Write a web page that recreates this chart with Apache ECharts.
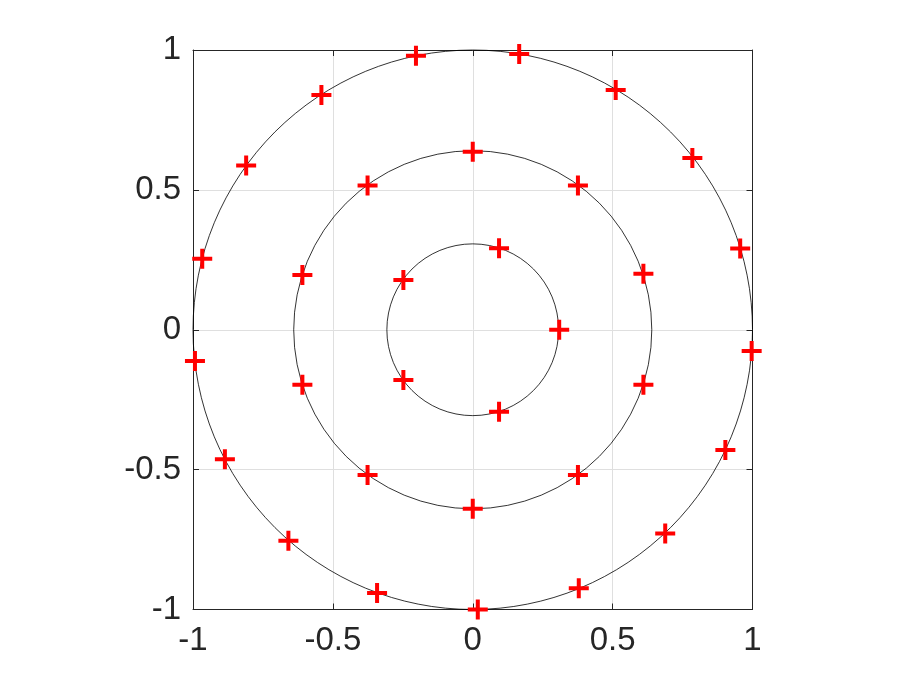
<!DOCTYPE html>
<html>
<head>
<meta charset="utf-8">
<script src="https://cdn.jsdelivr.net/npm/echarts@6/dist/echarts.min.js"></script>
<style>
html,body{margin:0;padding:0;background:#fff;}
#chart{width:913px;height:685px;}
</style>
</head>
<body>
<div id="chart"></div>
<script>
// Tick labels
const tickValues = [-1, -0.5, 0, 0.5, 1];
const tickLabels = ['-1', '-0.5', '0', '0.5', '1'];

// Circle radii
const circleRadii = [0.307, 0.64, 1.0];

// Inner ring points
const innerX = [0.309, 0.094, -0.248, -0.248, 0.094];
const innerY = [0.0, 0.291, 0.178, -0.18, -0.293];

// Middle ring points
const middleX = [0.0, 0.376, 0.61, 0.61, 0.376, 0.0, -0.376, -0.609, -0.609, -0.376];
const middleY = [0.636, 0.516, 0.2, -0.197, -0.519, -0.64, -0.519, -0.197, 0.196, 0.516];

// Outer ring points
const outerX = [0.166, 0.511, 0.785, 0.956, 0.997, 0.903, 0.688, 0.379, 0.018, -0.342, -0.659, -0.886, -0.993, -0.967, -0.81, -0.541, -0.203];
const outerY = [0.986, 0.857, 0.614, 0.29, -0.076, -0.43, -0.728, -0.924, -1.0, -0.941, -0.754, -0.463, -0.112, 0.254, 0.587, 0.839, 0.979];

const zip = (xs, ys) => xs.map((x, i) => [x, ys[i]]);
const labelFor = v => {
  const i = tickValues.findIndex(t => Math.abs(t - v) < 1e-9);
  return i >= 0 ? tickLabels[i] : '';
};

const axisColor = '#262626';
const fontFamily = '"Liberation Sans", Arial, Helvetica, sans-serif';
const plusPath = 'path://M8,0H12V8H20V12H12V20H8V12H0V8H8Z';

function makeAxis(position, main) {
  return {
    type: 'value', min: -1, max: 1, interval: 0.5, position: position,
    axisLine: { show: true, onZero: false, lineStyle: { color: axisColor, width: 1 } },
    axisTick: { show: true, inside: true, length: 6, lineStyle: { color: axisColor, width: 1 } },
    axisLabel: main ? {
      show: true, fontSize: 33, color: axisColor, fontFamily: fontFamily,
      margin: position === 'bottom' ? 15 : 12,
      formatter: labelFor
    } : { show: false },
    splitLine: { show: main, lineStyle: { color: '#dfdfdf', width: 1 } }
  };
}

function scatterSeries(data) {
  return {
    type: 'scatter', data: data, symbol: plusPath, symbolSize: 20,
    itemStyle: { color: '#ff0000', opacity: 1 }, clip: false, z: 10, silent: true,
    xAxisIndex: 0, yAxisIndex: 0
  };
}

const chart = echarts.init(document.getElementById('chart'));
chart.setOption({
  animation: false,
  backgroundColor: '#ffffff',
  grid: { left: 193, top: 50, width: 559.5, height: 559.5, containLabel: false },
  xAxis: [makeAxis('bottom', true), makeAxis('top', false)],
  yAxis: [makeAxis('left', true), makeAxis('right', false)],
  series: [
    {
      type: 'custom', xAxisIndex: 0, yAxisIndex: 0, z: 5, silent: true, clip: false,
      data: circleRadii.map(r => [0, 0, r]),
      encode: { x: 0, y: 1 },
      renderItem: function (params, api) {
        const c = api.coord([api.value(0), api.value(1)]);
        const s = api.size([api.value(2), api.value(2)]);
        return {
          type: 'circle',
          shape: { cx: c[0], cy: c[1], r: s[0] },
          style: { fill: null, stroke: '#000000', lineWidth: 0.8 }
        };
      }
    },
    scatterSeries(zip(innerX, innerY)),
    scatterSeries(zip(middleX, middleY)),
    scatterSeries(zip(outerX, outerY))
  ]
});
</script>
</body>
</html>
